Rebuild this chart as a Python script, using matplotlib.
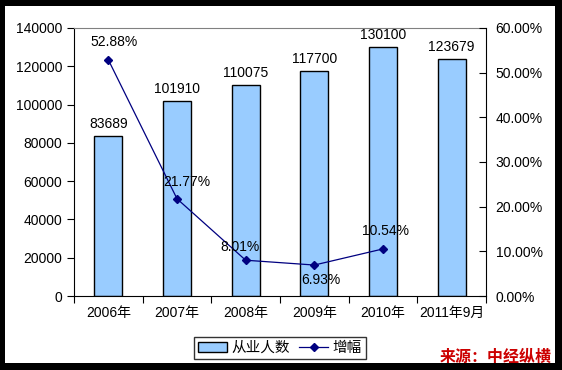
import numpy as np
import matplotlib
matplotlib.use("Agg")
import matplotlib.pyplot as plt
from matplotlib.patches import Rectangle, Patch
from matplotlib.lines import Line2D

plt.rcParams['font.family'] = ['Liberation Sans', 'Noto Sans CJK SC', 'DejaVu Sans']

years = ['2006年', '2007年', '2008年', '2009年', '2010年', '2011年9月']
workers = [83689, 101910, 110075, 117700, 130100, 123679]
growth = [52.88, 21.77, 8.01, 6.93, 10.54]   # %

# label offsets in pixels for the growth labels
pct_offsets = [(6, 18), (10, 17), (-6, 13), (7, -15), (3, 18)]

fig = plt.figure(figsize=(5.62, 3.7), dpi=100)
fig.patch.set_facecolor('black')
fig.patches.append(Rectangle((5 / 562, 7 / 370), 550 / 562, 357 / 370,
                             transform=fig.transFigure, facecolor='white',
                             edgecolor='none', zorder=-10))

ax = fig.add_axes([74 / 562, 74 / 370, 412 / 562, 268 / 370])
ax.set_facecolor('none')
x = np.arange(len(years))
ax.bar(x, workers, 0.41, color='#99CCFF', edgecolor='black', linewidth=1, zorder=2)
for xi, v in zip(x, workers):
    ax.annotate(str(v), (xi, v), xytext=(0, 5), textcoords='offset pixels',
                ha='center', va='bottom', fontsize=10)

ax.set_xlim(-0.5, len(years) - 0.5)
ax.set_ylim(0, 140000)
ax.set_yticks(np.arange(0, 140001, 20000))
ax.set_xticks(np.arange(-0.5, len(years), 1))
ax.set_xticklabels([])
ax.set_xticks(x, minor=True)
ax.set_xticklabels(years, minor=True, fontsize=10)
ax.tick_params(axis='x', which='major', length=5, direction='out')
ax.tick_params(axis='x', which='minor', length=0, pad=7)
ax.tick_params(axis='y', length=5, direction='out', labelsize=10)
ax.spines['top'].set_color('#808080')
ax.spines['right'].set_visible(False)

ax2 = ax.twinx()
ax2.set_ylim(0, 60)
ax2.set_yticks(np.arange(0, 61, 10))
ax2.set_yticklabels(['%.2f%%' % t for t in np.arange(0, 61, 10)])
ax2.tick_params(axis='y', length=5, direction='in', pad=7, labelsize=10)
ax2.spines['top'].set_visible(False)
ax2.spines['left'].set_visible(False)
ax2.spines['bottom'].set_visible(False)
ax2.plot(x[:len(growth)], growth, color='#000080', linewidth=0.9,
         marker='D', markersize=4, markerfacecolor='#000080', zorder=3)
for xi, g, off in zip(x, growth, pct_offsets):
    ax2.annotate('%.2f%%' % g, (xi, g), xytext=off, textcoords='offset pixels',
                 ha='center', va='center', fontsize=10)

handles = [Patch(facecolor='#99CCFF', edgecolor='black', linewidth=1),
           Line2D([], [], color='#000080', marker='D', markersize=4, linewidth=0.9)]
leg = fig.legend(handles, ['从业人数', '增幅'], loc='center',
                 bbox_to_anchor=(280 / 562, 1 - 348 / 370), ncol=2, fontsize=10.5,
                 frameon=True, fancybox=False, edgecolor='black',
                 handlelength=2.0, handletextpad=0.3, columnspacing=0.6,
                 borderpad=0.3, borderaxespad=0)
leg.get_frame().set_linewidth(1)

fig.text(552 / 562, 1 - 357 / 370, '来源：中经纵横', color='#CC0000',
         fontsize=11.5, fontweight='bold', ha='right', va='center',
         family=['Noto Sans CJK SC'])

fig.savefig('out.png', dpi=100, facecolor=fig.get_facecolor())
